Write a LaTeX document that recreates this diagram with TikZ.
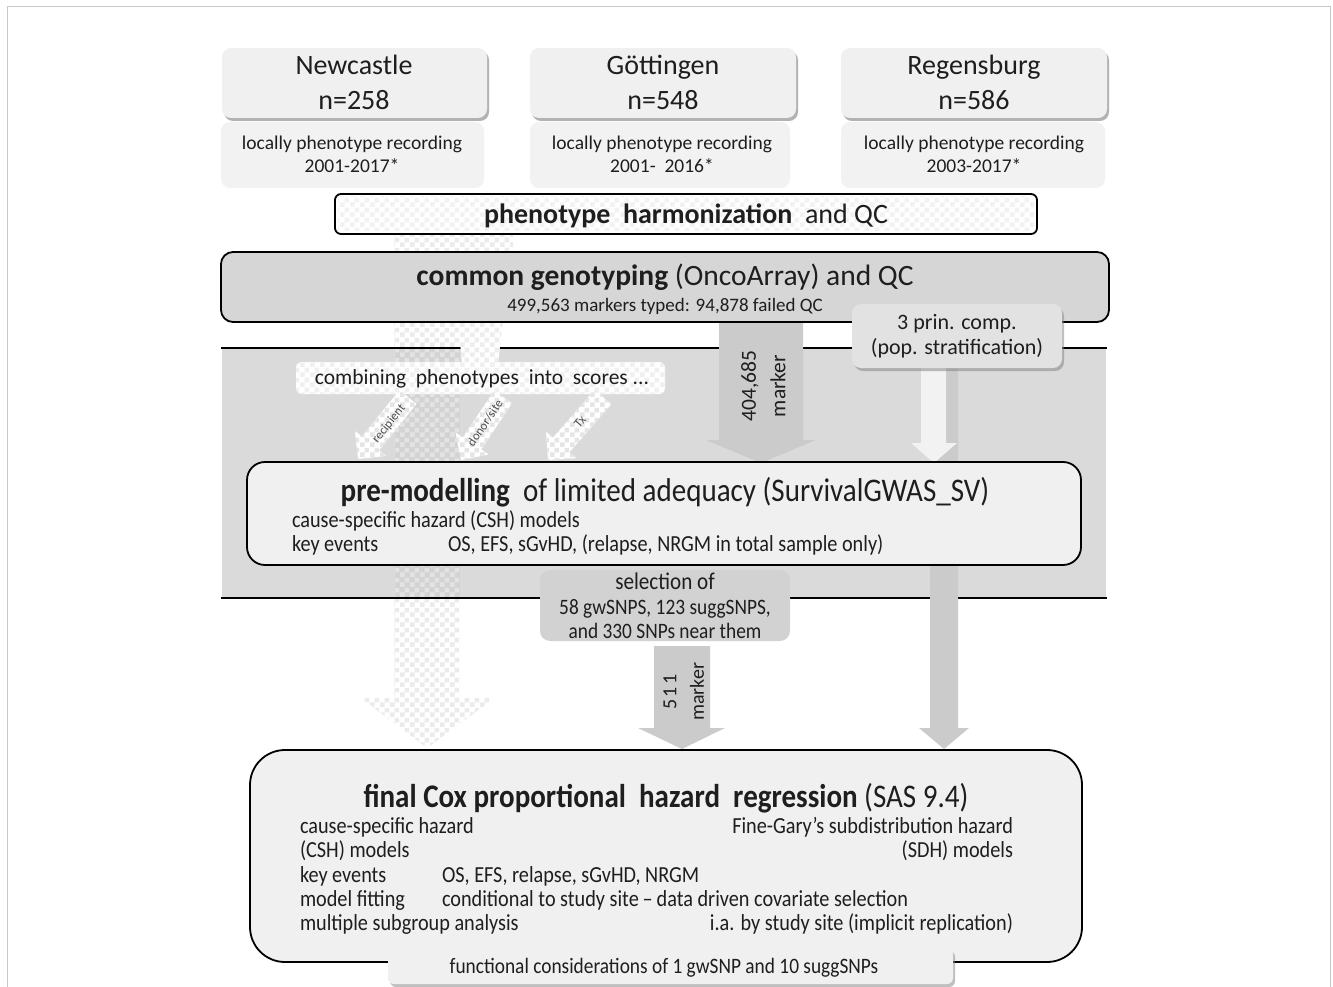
\documentclass[tikz,border=0pt]{standalone}
\usepackage{fontspec}
\setmainfont{Carlito}
\newfontfamily\condf[FakeStretch=0.88,Ligatures=TeX]{Carlito}
\usetikzlibrary{patterns,shadows}
\pgfdeclarepatternformonly{chk}{\pgfpointorigin}{\pgfqpoint{10pt}{10pt}}{\pgfqpoint{10pt}{10pt}}{%
 \pgfpathrectangle{\pgfpointorigin}{\pgfqpoint{5pt}{5pt}}%
 \pgfpathrectangle{\pgfqpoint{5pt}{5pt}}{\pgfqpoint{5pt}{5pt}}%
 \pgfusepath{fill}}
\definecolor{boxlight}{RGB}{240,240,240}
\definecolor{loclight}{RGB}{242,242,242}
\definecolor{genofill}{RGB}{214,214,214}
\definecolor{bandfill}{RGB}{218,218,218}
\definecolor{princfill}{RGB}{226,226,226}
\definecolor{selfill}{RGB}{210,210,210}
\definecolor{arrgray}{RGB}{203,203,203}
\definecolor{txt}{RGB}{30,30,30}
\definecolor{framec}{RGB}{200,200,200}
\tikzset{
 every node/.style={text=txt},
 plain/.style={inner sep=0pt, outer sep=0pt},
 topbox/.style={plain, rounded corners=9pt, fill=boxlight, minimum height=70pt,
   drop shadow={shadow xshift=2pt, shadow yshift=-3pt, fill=black!55, opacity=0.55}},
 locbox/.style={plain, rounded corners=9pt, fill=loclight, minimum height=66pt},
 blackbox/.style={plain, draw=black, line width=1.8pt},
 graybox/.style={plain, rounded corners=9pt, fill=princfill,
   drop shadow={shadow xshift=2pt, shadow yshift=-3pt, fill=black!50, opacity=0.5}},
 diagarr/.style={fill=white, postaction={pattern=chk, pattern color=black!10}},
 ttl/.style={plain, anchor=base, font=\fontsize{28}{30}\selectfont},
 loc/.style={plain, anchor=base, font=\fontsize{19.5}{22}\selectfont},
 lft/.style={plain, anchor=base west, font=\condf\fontsize{23}{25}\selectfont},
 rgt/.style={plain, anchor=base east, font=\condf\fontsize{23}{25}\selectfont},
 dlab/.style={plain, font=\fontsize{12.5}{13}\selectfont, text=black!70},
}
\begin{document}
\begin{tikzpicture}[x=1pt,y=-1pt]
\useasboundingbox (0,0) rectangle (1333,987);
% frame
\draw[framec, line width=1pt] (7,7) rectangle (1330,1000);
% band
\fill[bandfill] (222,348) rectangle (1106,598);
% big checkered arrow (phenotypes)
\path[pattern=chk, pattern color=black!8] (394,234) -- (460,234) -- (460,698) -- (495,698) -- (427,748) -- (361,698) -- (394,698) -- cycle;
\path[fill=black, fill opacity=0.03] (394,348) rectangle (460,598);
\path[pattern=chk, pattern color=black!8] (460,234) rectangle (513,252);
% band lines
\draw[line width=1.8pt] (221,348) -- (1107,348);
\draw[line width=1.8pt] (221,598) -- (1107,598);
% funnel into combining box
\fill[white] (458,322) -- (503,322) -- (498,363) -- (462,363) -- cycle;
\path[pattern=chk, pattern color=black!7] (458,322) -- (503,322) -- (498,363) -- (462,363) -- cycle;
% 404,685 marker arrow
\fill[arrgray] (719,322) -- (803,322) -- (803,440) -- (816,440) -- (761,463) -- (706,440) -- (719,440) -- cycle;
\node[plain, rotate=90, font=\fontsize{21.5}{23}\selectfont] (n404) at (750,386) {404,685};
\node[plain, rotate=90, font=\fontsize{21.5}{23}\selectfont] (m404) at (778,386) {marker};
% right stratification arrows
\fill[arrgray] (930,367) -- (958,367) -- (958,728) -- (969,728) -- (944,749) -- (919,728) -- (930,728) -- cycle;
\fill[loclight] (921,367) -- (946,367) -- (946,443) -- (957,443) -- (934,463) -- (911,443) -- (921,443) -- cycle;
% 511 marker arrow
\fill[arrgray] (654,646) -- (710,646) -- (710,728) -- (725,728) -- (682,749) -- (638,728) -- (654,728) -- cycle;
\node[plain, rotate=90, font=\fontsize{20}{22}\selectfont] (n511) at (670,692) {5\hspace{2pt}1\hspace{2pt}1};
\node[plain, rotate=90, font=\fontsize{20}{22}\selectfont] (m511) at (697,692) {marker};

% top site boxes
\node[topbox, minimum width=265pt] (newc) at (354.5,83) {};
\node[topbox, minimum width=266pt] (goet) at (663,83) {};
\node[topbox, minimum width=266pt] (rege) at (974,83) {};
\node[ttl] (newcT) at (354,75) {Newcastle};
\node[ttl] (newcN) at (354,110) {n=258};
\node[ttl] (goetT) at (663,75) {Göttingen};
\node[ttl] (goetN) at (663,110) {n=548};
\node[ttl] (regeT) at (974,75) {Regensburg};
\node[ttl] (regeN) at (974,110) {n=586};
% locally boxes
\node[locbox, minimum width=263pt] (newcL) at (352.5,155) {};
\node[locbox, minimum width=260pt] (goetL) at (660,155) {};
\node[locbox, minimum width=264pt] (regeL) at (973,155) {};
\node[loc] (newcL1) at (352,150) {locally phenotype recording};
\node[loc] (newcL2) at (352,173) {2001-2017*};
\node[loc] (goetL1) at (662,150) {locally phenotype recording};
\node[loc] (goetL2) at (662,173) {2001-\ \ 2016*};
\node[loc] (regeL1) at (974,150) {locally phenotype recording};
\node[loc] (regeL2) at (974,173) {2003-2017*};
% phenotype harmonization
\node[blackbox, rounded corners=6pt, fill=white, minimum width=702pt, minimum height=40pt] (harm) at (686,214) {};
\path[pattern=chk, pattern color=black!5] (338,197) rectangle (1034,231);
\node[plain, anchor=base, font=\fontsize{28}{30}\selectfont] (harmT) at (686,224) {\textbf{phenotype\ \ harmonization}\ \ and QC};
% common genotyping
\node[blackbox, rounded corners=12pt, fill=genofill, minimum width=888pt, minimum height=70pt] (geno) at (665,287) {};
\node[plain, anchor=base, font=\fontsize{29.5}{32}\selectfont] (genoT) at (665,285) {\textbf{common genotyping} (OncoArray) and QC};
\node[plain, anchor=base, font=\fontsize{19}{21}\selectfont] (genoS) at (665,311) {499,563 markers typed: 94,878 failed QC};
% principal components
\node[graybox, minimum width=210pt, minimum height=64pt] (prin) at (957,336) {};
\node[plain, anchor=base, font=\fontsize{22}{24}\selectfont] (prin1) at (957,329) {3 prin. comp.};
\node[plain, anchor=base, font=\fontsize{22}{24}\selectfont] (prin2) at (957,354) {(pop. stratification)};
% combining phenotypes
\node[plain, rounded corners=6pt, fill=white, minimum width=369pt, minimum height=32pt] (comb) at (480.5,378) {};
\path[pattern=chk, pattern color=black!6, rounded corners=6pt] (296,362) rectangle (665,394);
\node[plain, anchor=base, font=\fontsize{21.5}{23}\selectfont] (combT) at (482,384) {combining\ \ phenotypes\ \ into\ \ scores ...};
% diagonal arrows
\path[diagarr] (416.56,403.90) -- (379.11,450.33) -- (386.12,455.98) -- (358,459) -- (354.98,430.88) -- (361.99,436.53) -- (399.44,390.10) -- cycle;
\path[diagarr] (512.15,403.10) -- (481.24,449.46) -- (488.73,454.45) -- (461,460) -- (455.45,432.27) -- (462.94,437.26) -- (493.85,390.90) -- cycle;
\path[diagarr] (611.29,404.23) -- (569.44,452.16) -- (576.22,458.08) -- (548,460) -- (546.08,431.78) -- (552.86,437.70) -- (594.71,389.77) -- cycle;
\node[dlab, rotate=51] (labRec) at (389,424) {recipient};
\node[dlab, rotate=56] (labDon) at (485,423) {donor/site};
\node[dlab, rotate=49] (labTx) at (580,422) {Tx};
% pre-modelling
\node[blackbox, rounded corners=18pt, fill=boxlight, minimum width=834pt, minimum height=103pt] (prem) at (664,513.5) {};
\node[plain, anchor=base, font=\condf\fontsize{33}{35}\selectfont] (premT) at (665,501) {\textbf{pre-modelling}\ \ of limited adequacy (SurvivalGWAS\_SV)};
\node[lft] (prem1) at (292,527) {cause-specific hazard (CSH) models};
\node[lft] (prem2) at (292,551) {key events};
\node[lft] (prem3) at (448,551) {OS, EFS, sGvHD, (relapse, NRGM in total sample only)};
% selection
\node[plain, rounded corners=10pt, fill=selfill, minimum width=250pt, minimum height=71pt] (sel) at (665,605.5) {};
\node[plain, anchor=base, font=\condf\fontsize{24}{26}\selectfont] (sel1) at (665,589) {selection of};
\node[plain, anchor=base, font=\condf\fontsize{22}{24}\selectfont] (sel2) at (665,614) {58 gwSNPS,\ 123 suggSNPS,};
\node[plain, anchor=base, font=\condf\fontsize{22}{24}\selectfont] (sel3) at (665,638) {and 330 SNPs near them};
% final regression
\node[blackbox, rounded corners=35pt, fill=boxlight, minimum width=832pt, minimum height=212pt] (fin) at (666,856) {};
\node[plain, anchor=base, font=\condf\fontsize{33}{35}\selectfont] (finT) at (666,807) {\textbf{final Cox proportional\ \ hazard\ \ regression} (SAS 9.4)};
\node[lft] (finL1) at (300,833) {cause-specific hazard};
\node[lft] (finL2) at (300,857) {(CSH) models};
\node[lft] (finL3) at (300,882) {key events};
\node[lft] (finL4) at (300,906) {model fitting};
\node[lft] (finL5) at (300,930) {multiple subgroup analysis};
\node[rgt] (finR1) at (1013,833) {Fine-Gary’s subdistribution hazard};
\node[rgt] (finR2) at (1013,857) {(SDH) models};
\node[rgt] (finR5) at (1013,930) {i.a. by study site (implicit replication)};
\node[lft] (finM3) at (442,882) {OS, EFS, relapse, sGvHD, NRGM};
\node[lft] (finM4) at (442,906) {conditional to study site\,–\,data driven covariate selection};
% functional considerations
\node[plain, rounded corners=6pt, fill=boxlight, minimum width=565pt, minimum height=36pt,
  drop shadow={shadow xshift=2pt, shadow yshift=-3pt, fill=black!50, opacity=0.5}] (func) at (670.5,966) {};
\node[plain, anchor=base, font=\condf\fontsize{22}{24}\selectfont] (funcT) at (664,973) {functional considerations of 1 gwSNP and 10 suggSNPs};
\end{tikzpicture}
\end{document}
